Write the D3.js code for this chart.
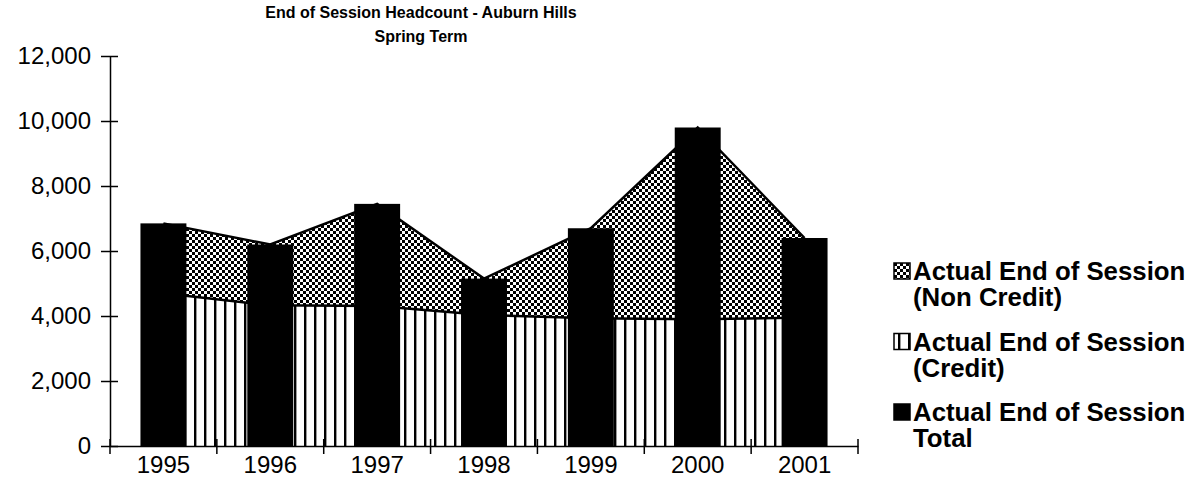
<!DOCTYPE html>
<html>
<head>
<meta charset="utf-8">
<script src="https://cdn.jsdelivr.net/npm/d3@7"></script>
<style>
    body { margin: 0; background: #fff; }
    svg { display: block; font-family: Arial, "Liberation Sans", sans-serif; }
</style>
</head>
<body>
<div id="chart"></div>
<script>
'use strict';

var years = ["1995", "1996", "1997", "1998", "1999", "2000", "2001"];
var creditValues = [4700, 4330, 4310, 4030, 3930, 3900, 3950];
var nonCreditValues = [2150, 1870, 3140, 1120, 2770, 5900, 2450];
var totalValues = [6850, 6200, 7450, 5150, 6700, 9800, 6400];
var yTickValues = [0, 2000, 4000, 6000, 8000, 10000, 12000];
var titleLines = ["End of Session Headcount - Auburn Hills", "Spring Term"];
var legendItems = [
    {key: "noncredit", lines: ["Actual End of Session", "(Non Credit)"]},
    {key: "credit", lines: ["Actual End of Session", "(Credit)"]},
    {key: "total", lines: ["Actual End of Session", "Total"]}
];

var outerWidth = 1190,
    outerHeight = 496,
    plot = {left: 110, right: 858, top: 56, bottom: 446};

var svg = d3.select("#chart")
    .append("svg")
    .attr("width", outerWidth)
    .attr("height", outerHeight);

// fill patterns
var defs = svg.append("defs");

var checker = defs.append("pattern")
    .attr("id", "checker")
    .attr("patternUnits", "userSpaceOnUse")
    .attr("width", 6)
    .attr("height", 6);
checker.append("rect").attr("width", 6).attr("height", 6).attr("fill", "#fff");
checker.append("rect").attr("x", 0).attr("y", 0).attr("width", 3).attr("height", 3).attr("fill", "#000");
checker.append("rect").attr("x", 3).attr("y", 3).attr("width", 3).attr("height", 3).attr("fill", "#000");

var stripes = defs.append("pattern")
    .attr("id", "stripes")
    .attr("patternUnits", "userSpaceOnUse")
    .attr("width", 10)
    .attr("height", 10);
stripes.append("rect").attr("width", 10).attr("height", 10).attr("fill", "#fff");
stripes.append("rect").attr("x", 4).attr("y", 0).attr("width", 2.4).attr("height", 10).attr("fill", "#000");

var x = d3.scaleBand()
    .domain(years)
    .range([plot.left, plot.right])
    .padding(0);

var y = d3.scaleLinear()
    .domain([0, 12000])
    .range([plot.bottom, plot.top]);

var barWidth = x.bandwidth() * 0.43;

var rows = years.map(function (d, i) {
    return {year: d, credit: creditValues[i], nonCredit: nonCreditValues[i], total: totalValues[i]};
});

var stack = d3.stack().keys(["credit", "nonCredit"]);
var layers = stack(rows);

var area = d3.area()
    .x(function (d) { return x(d.data.year) + x.bandwidth() / 2; })
    .y0(function (d) { return y(d[0]); })
    .y1(function (d) { return y(d[1]); });

var topLine = d3.line()
    .x(function (d) { return x(d.data.year) + x.bandwidth() / 2; })
    .y(function (d) { return y(d[1]); });

var fills = {credit: "url(#stripes)", nonCredit: "url(#checker)"};

var g = svg.append("g").attr("class", "plot");

g.selectAll("path.area")
    .data(layers)
    .enter().append("path")
    .attr("class", "area")
    .attr("d", area)
    .attr("fill", function (d) { return fills[d.key]; });

g.selectAll("path.edge")
    .data(layers)
    .enter().append("path")
    .attr("class", "edge")
    .attr("d", topLine)
    .attr("fill", "none")
    .attr("stroke", "#000")
    .attr("stroke-width", 2.5);

g.selectAll("rect.bar")
    .data(rows)
    .enter().append("rect")
    .attr("class", "bar")
    .attr("x", function (d) { return x(d.year) + (x.bandwidth() - barWidth) / 2; })
    .attr("y", function (d) { return y(d.total); })
    .attr("width", barWidth)
    .attr("height", function (d) { return y(0) - y(d.total); })
    .attr("fill", "#000");

// y axis, ticks cross the line
var yAxis = d3.axisLeft(y)
    .tickValues(yTickValues)
    .tickSizeOuter(0)
    .tickSizeInner(8)
    .tickPadding(11)
    .tickFormat(d3.format(","));

var yg = svg.append("g")
    .attr("class", "yAxis")
    .attr("transform", "translate(" + plot.left + ",0)")
    .call(yAxis);

yg.select(".domain").attr("stroke", "#000").attr("stroke-width", 1.5);
yg.selectAll(".tick line").attr("x2", -9).attr("x1", 8).attr("stroke-width", 1.5);
yg.selectAll(".tick text")
    .attr("font-size", 24)
    .attr("font-family", "Arial, 'Liberation Sans', sans-serif")
    .attr("fill", "#000");

// x axis: labels at centres, ticks on category boundaries
var xAxis = d3.axisBottom(x)
    .tickSize(0)
    .tickPadding(10);

var xg = svg.append("g")
    .attr("class", "xAxis")
    .attr("transform", "translate(0," + plot.bottom + ")")
    .call(xAxis);

xg.select(".domain").attr("stroke", "#000").attr("stroke-width", 1.5);
xg.selectAll(".tick text")
    .attr("font-size", 24)
    .attr("font-family", "Arial, 'Liberation Sans', sans-serif")
    .attr("fill", "#000");

var bounds = years.map(function (d) { return x(d); }).concat([x.range()[1]]);

xg.selectAll("line.boundary")
    .data(bounds)
    .enter().append("line")
    .attr("class", "boundary")
    .attr("x1", function (d) { return d; })
    .attr("x2", function (d) { return d; })
    .attr("y1", -7)
    .attr("y2", 8)
    .attr("stroke", "#000")
    .attr("stroke-width", 1.5);

// title
svg.append("text")
    .attr("class", "title")
    .attr("x", 421)
    .attr("y", 18)
    .attr("text-anchor", "middle")
    .attr("font-size", 16)
    .attr("font-weight", "bold")
    .selectAll("tspan")
    .data(titleLines)
    .enter().append("tspan")
    .attr("x", 421)
    .attr("dy", function (d, i) { return i === 0 ? 0 : 24; })
    .text(function (d) { return d; });

// legend
var legendFill = {noncredit: "url(#checker)", credit: "url(#stripes)", total: "#000"};

var legend = svg.append("g")
    .attr("class", "legend")
    .attr("transform", "translate(894,263)");

var item = legend.selectAll("g.item")
    .data(legendItems)
    .enter().append("g")
    .attr("class", "item")
    .attr("transform", function (d, i) { return "translate(0," + (i * 70.5) + ")"; });

item.append("rect")
    .attr("x", 0)
    .attr("y", 0)
    .attr("width", 16)
    .attr("height", 16)
    .attr("fill", function (d) { return legendFill[d.key]; })
    .attr("stroke", "#000")
    .attr("stroke-width", 1.5);

item.append("text")
    .attr("font-size", 25.8)
    .attr("font-weight", "bold")
    .attr("fill", "#000")
    .selectAll("tspan")
    .data(function (d) { return d.lines; })
    .enter().append("tspan")
    .attr("x", 19)
    .attr("y", function (d, i) { return 17 + i * 26; })
    .text(function (d) { return d; });
</script>
</body>
</html>
